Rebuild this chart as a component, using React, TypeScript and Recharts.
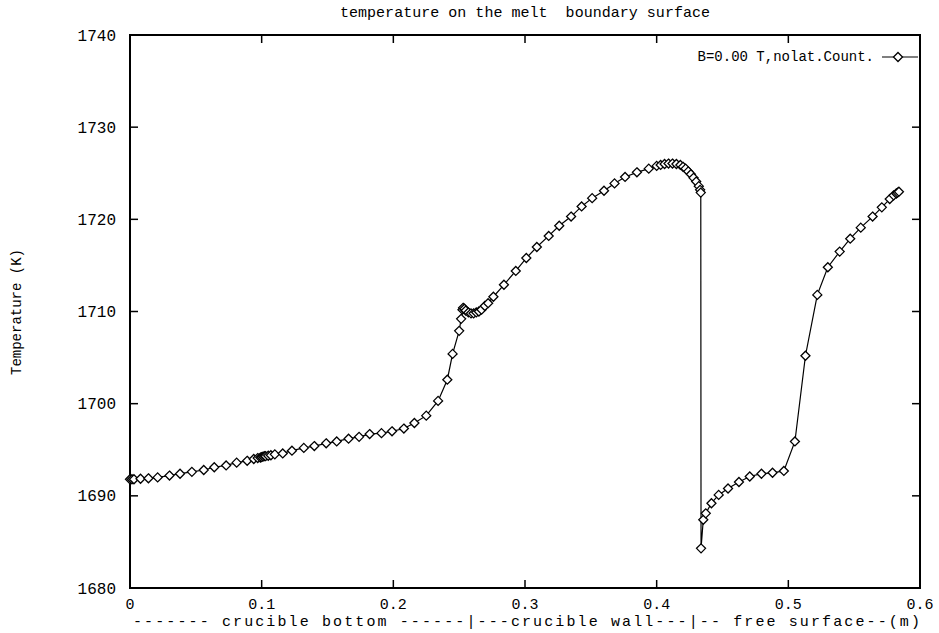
import React from 'react';
import { LineChart, Line, XAxis, YAxis, ReferenceArea, Legend } from 'recharts';

// crucible bottom (incl. the steep rise up to the corner)
const bottomX = [0, 0.0015, 0.003, 0.008, 0.014, 0.021, 0.03, 0.038, 0.047, 0.056, 0.064, 0.073, 0.081, 0.089, 0.094, 0.097, 0.099, 0.1, 0.101, 0.102, 0.103, 0.105, 0.107, 0.11, 0.116, 0.123, 0.132, 0.14, 0.149, 0.157, 0.166, 0.174, 0.182, 0.191, 0.199, 0.208, 0.216, 0.225, 0.234, 0.241, 0.245, 0.25];
const bottomT = [1691.8, 1691.8, 1691.8, 1691.85, 1691.9, 1692.0, 1692.2, 1692.4, 1692.6, 1692.8, 1693.1, 1693.3, 1693.6, 1693.8, 1694.0, 1694.1, 1694.15, 1694.2, 1694.25, 1694.3, 1694.3, 1694.35, 1694.4, 1694.5, 1694.6, 1694.9, 1695.2, 1695.4, 1695.7, 1695.9, 1696.2, 1696.4, 1696.7, 1696.8, 1697.0, 1697.3, 1697.9, 1698.7, 1700.3, 1702.6, 1705.4, 1707.9];

// crucible wall
const wallX = [0.2515, 0.2525, 0.253, 0.254, 0.255, 0.257, 0.259, 0.261, 0.263, 0.265, 0.267, 0.2695, 0.272, 0.276, 0.284, 0.293, 0.301, 0.309, 0.318, 0.326, 0.335, 0.343, 0.351, 0.36, 0.368, 0.376, 0.385, 0.394, 0.4, 0.403, 0.406, 0.409, 0.412, 0.415, 0.418, 0.42, 0.422, 0.424, 0.426, 0.428, 0.43, 0.432, 0.433, 0.4335];
const wallT = [1709.2, 1710.2, 1710.4, 1710.3, 1710.1, 1709.9, 1709.8, 1709.8, 1709.9, 1710.0, 1710.2, 1710.6, 1710.9, 1711.6, 1712.9, 1714.4, 1715.8, 1717.0, 1718.2, 1719.3, 1720.3, 1721.4, 1722.3, 1723.1, 1723.9, 1724.6, 1725.1, 1725.5, 1725.8, 1725.9, 1726.0, 1726.05, 1726.05, 1726.0, 1725.9, 1725.7, 1725.5, 1725.2, 1724.9, 1724.5, 1724.1, 1723.6, 1723.2, 1722.9];

// free surface
const surfX = [0.4337, 0.4354, 0.4373, 0.4416, 0.4471, 0.4542, 0.4625, 0.4707, 0.4796, 0.488, 0.4966, 0.505, 0.513, 0.522, 0.53, 0.539, 0.547, 0.555, 0.564, 0.571, 0.577, 0.58, 0.582, 0.583, 0.584];
const surfT = [1684.3, 1687.4, 1688.1, 1689.2, 1690.1, 1690.8, 1691.5, 1692.1, 1692.4, 1692.5, 1692.7, 1695.9, 1705.2, 1711.8, 1714.8, 1716.5, 1717.9, 1719.1, 1720.3, 1721.3, 1722.2, 1722.6, 1722.8, 1722.9, 1723.0];

const xTicks = [0, 0.1, 0.2, 0.3, 0.4, 0.5, 0.6];
const xTickLabels = ['0', '0.1', '0.2', '0.3', '0.4', '0.5', '0.6'];
const yTicks = [1680, 1690, 1700, 1710, 1720, 1730, 1740];

const title = 'temperature on the melt  boundary surface';
const xTitle = '------- crucible bottom ------|---crucible wall---|-- free surface--(m)';
const yTitle = 'Temperature (K)';
const seriesName = 'B=0.00 T,nolat.Count.';

const data = [
  ...bottomX.map((x, i) => ({ x, t: bottomT[i] })),
  ...wallX.map((x, i) => ({ x, t: wallT[i] })),
  ...surfX.map((x, i) => ({ x, t: surfT[i] })),
];

const FONT = '"Liberation Mono", "DejaVu Sans Mono", monospace';
const PLOT = { left: 130, right: 920, top: 35, bottom: 588 };
const TICK = 8;

const Diamond = (props: any) => {
  const { cx, cy } = props;
  if (cx == null || cy == null) return null;
  const r = 4.5;
  return (
    <path
      d={`M${cx},${cy - r}L${cx + r},${cy}L${cx},${cy + r}L${cx - r},${cy}Z`}
      fill="#fff"
      stroke="#000"
      strokeWidth={1.3}
    />
  );
};

const XTick = (props: any) => {
  const { x, y, payload, index } = props;
  return (
    <g>
      <line x1={x} y1={y} x2={x} y2={y - TICK} stroke="#000" strokeWidth={1.5} />
      <line x1={x} y1={PLOT.top} x2={x} y2={PLOT.top + TICK} stroke="#000" strokeWidth={1.5} />
      <text x={x} y={y + 21} textAnchor="middle" fontFamily={FONT} fontSize={15} fill="#000">
        {xTickLabels[index] ?? payload.value}
      </text>
    </g>
  );
};

const YTick = (props: any) => {
  const { x, y, payload } = props;
  return (
    <g>
      <line x1={x} y1={y} x2={x + TICK} y2={y} stroke="#000" strokeWidth={1.5} />
      <line x1={PLOT.right} y1={y} x2={PLOT.right - TICK} y2={y} stroke="#000" strokeWidth={1.5} />
      <text x={x - 14} y={y} dy="0.35em" textAnchor="end" fontFamily={FONT} fontSize={16} fill="#000">
        {payload.value}
      </text>
    </g>
  );
};

const LegendKey = () => (
  <div style={{ display: 'flex', alignItems: 'center', fontFamily: FONT, fontSize: 14, color: '#000' }}>
    <span>{seriesName}</span>
    <svg width={40} height={12} style={{ marginLeft: 6 }}>
      <line x1={2} y1={6} x2={38} y2={6} stroke="#000" strokeWidth={1.2} />
      <Diamond cx={18} cy={6} />
    </svg>
  </div>
);

export default function App() {
  return (
    <div style={{ position: 'absolute', left: 0, top: 0, width: 939, height: 633, background: '#fff' }}>
      <LineChart
        width={939}
        height={633}
        data={data}
        margin={{ top: PLOT.top, right: 939 - PLOT.right, bottom: 633 - PLOT.bottom - 30, left: PLOT.left - 60 }}
      >
        <XAxis
          type="number"
          dataKey="x"
          domain={[0, 0.6]}
          ticks={xTicks}
          height={30}
          tickSize={0}
          tickMargin={0}
          tickLine={false}
          axisLine={false}
          tick={<XTick />}
          interval={0}
        />
        <YAxis
          type="number"
          domain={[1680, 1740]}
          ticks={yTicks}
          width={60}
          tickSize={0}
          tickMargin={0}
          tickLine={false}
          axisLine={false}
          tick={<YTick />}
          interval={0}
        />
        <ReferenceArea x1={0} x2={0.6} y1={1680} y2={1740} fill="none" stroke="#000" strokeWidth={2} />
        <Legend
          layout="horizontal"
          verticalAlign="middle"
          wrapperStyle={{ top: 49, right: 19, left: 'auto', width: 'auto' }}
          content={<LegendKey />}
        />
        <Line
          type="linear"
          dataKey="t"
          name={seriesName}
          stroke="#000"
          strokeWidth={1.2}
          dot={<Diamond />}
          isAnimationActive={false}
        />
      </LineChart>
      <svg width={939} height={633} style={{ position: 'absolute', left: 0, top: 0, pointerEvents: 'none' }}>
        <text
          x={525}
          y={17}
          textAnchor="middle"
          fontFamily={FONT}
          fontSize={15}
          textLength={370}
          lengthAdjust="spacing"
          style={{ whiteSpace: 'pre' }}
        >
          {title}
        </text>
        <text x={133} y={626} fontFamily={FONT} fontSize={15} textLength={787} lengthAdjust="spacing">
          {xTitle}
        </text>
        <text
          x={21}
          y={312}
          textAnchor="middle"
          fontFamily={FONT}
          fontSize={14}
          transform="rotate(-90 21 312)"
        >
          {yTitle}
        </text>
      </svg>
    </div>
  );
}
